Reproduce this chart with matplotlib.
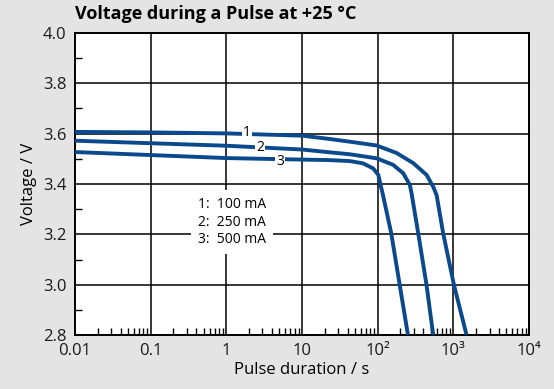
import matplotlib.pyplot as plt
from matplotlib.ticker import FixedLocator, FixedFormatter, LogLocator, MultipleLocator

plt.rcParams['font.family'] = ['Open Sans', 'DejaVu Sans']

# pulse duration (s) and voltage (V) for the three pulse currents
t_100 = [0.01, 0.1, 1, 10, 23, 43, 97, 178, 295, 443, 541, 600, 733, 1015, 1493]
v_100 = [3.607, 3.605, 3.601, 3.592, 3.579, 3.568, 3.553, 3.523, 3.483, 3.436, 3.389, 3.356, 3.204, 3.0, 2.80]

t_250 = [0.01, 0.1, 1, 10, 23, 43, 97, 160, 217, 266, 280, 343, 441, 541]
v_250 = [3.572, 3.562, 3.552, 3.537, 3.526, 3.518, 3.502, 3.476, 3.443, 3.396, 3.363, 3.204, 3.0, 2.80]

t_500 = [0.01, 0.1, 1, 10, 23, 43, 64, 87, 102, 109, 116, 151, 195, 251]
v_500 = [3.527, 3.515, 3.503, 3.497, 3.495, 3.491, 3.482, 3.462, 3.436, 3.396, 3.363, 3.204, 3.0, 2.80]

curves = [(t_100, v_100), (t_250, v_250), (t_500, v_500)]
curve_labels = ['1', '2', '3']
label_pos = [(1.86, 3.603), (2.79, 3.544), (5.1, 3.489)]
legend_lines = ['1:  100 mA', '2:  250 mA', '3:  500 mA']

xticks = [0.01, 0.1, 1, 10, 100, 1000, 10000]
xticklabels = ['0.01', '0.1', '1', '10', '10²', '10³', '10⁴']

bg = '#e3e4e3'
blue = '#0a4a8c'

fig = plt.figure(figsize=(5.54, 3.89), dpi=100, facecolor=bg)
ax = fig.add_axes([0.1354, 0.1388, 0.8196, 0.7764])
ax.set_facecolor('white')

for t, v in curves:
    ax.plot(t, v, color=blue, lw=2.8, solid_joinstyle='round',
            solid_capstyle='butt', zorder=3)

for lab, (x, y) in zip(curve_labels, label_pos):
    ax.text(x, y, lab, ha='center', va='center', fontsize=10, zorder=4,
            bbox=dict(facecolor='white', edgecolor='none', pad=0.6))

ax.text(1.19, 3.249, '\n'.join(legend_lines), ha='center', va='center',
        fontsize=10, linespacing=1.2, zorder=4,
        bbox=dict(facecolor='white', edgecolor='none', pad=5))

ax.set_xscale('log')
ax.set_xlim(0.01, 10000)
ax.set_ylim(2.8, 4.0)

ax.xaxis.set_major_locator(FixedLocator(xticks))
ax.xaxis.set_major_formatter(FixedFormatter(xticklabels))
ax.xaxis.set_minor_locator(LogLocator(base=10, subs=range(2, 10), numticks=20))
ax.yaxis.set_major_locator(MultipleLocator(0.2))
ax.yaxis.set_minor_locator(MultipleLocator(0.1))
ax.yaxis.set_major_formatter(plt.FormatStrFormatter('%.1f'))

ax.grid(True, which='major', color='black', lw=1.1)
ax.tick_params(which='major', length=0, labelsize=12, pad=6, colors='#1a1a1a')
ax.tick_params(which='minor', direction='in', length=5, width=1, color='black')
ax.tick_params(axis='x', which='minor', bottom=True, top=False)
ax.tick_params(axis='y', which='minor', left=True, right=False)
for s in ax.spines.values():
    s.set_linewidth(1.4)
    s.set_color('black')

ax.set_xlabel('Pulse duration / s', fontsize=12, labelpad=2)
ax.set_ylabel('Voltage / V', fontsize=12, labelpad=4)
fig.text(0.1354, 0.965, 'Voltage during a Pulse at +25 °C', fontsize=13,
         fontweight='bold', ha='left', va='center')

fig.savefig('out.png', dpi=100, facecolor=bg)
